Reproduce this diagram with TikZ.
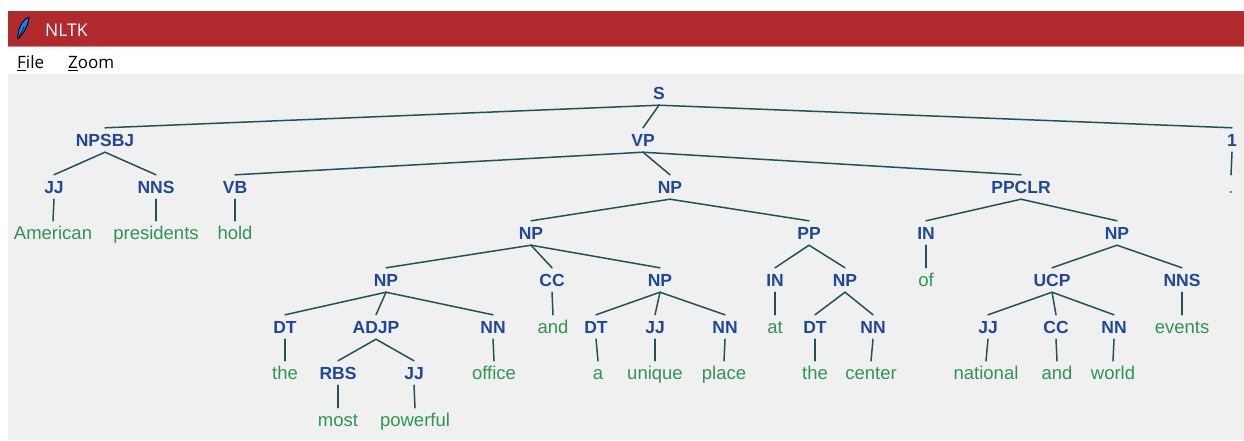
\documentclass[tikz,border=0pt]{standalone}
\usepackage{fontspec}
\setmainfont{Liberation Sans}
\newfontfamily\uifont{Open Sans}
\definecolor{tkred}{RGB}{176,42,46}
\definecolor{tkgray}{RGB}{240,240,240}
\definecolor{labcol}{RGB}{32,72,150}
\definecolor{leafcol}{RGB}{46,150,84}
\definecolor{edgecol}{RGB}{30,84,88}
\begin{document}
\begin{tikzpicture}[x=1pt,y=-1pt,line cap=round,line join=round,
    cat/.style={text=labcol,font=\fontsize{17.5}{20}\selectfont\bfseries,
      inner xsep=1pt,inner ysep=5pt,text height=13pt,text depth=1pt},
    word/.style={cat,text=leafcol,font=\fontsize{18.5}{21}\selectfont},
    branch/.style={draw=edgecol,line width=1.5pt},
    menu/.style={anchor=base west,inner sep=0pt,font=\uifont\fontsize{17}{20}\selectfont}]
    % window frame
    \useasboundingbox (0,0) rectangle (1244,440);
    \fill[white] (0,0) rectangle (1244,440);
    \fill[tkred] (8,11) rectangle (1244,46);
    \draw[tkred!55,line width=1pt] (8,46.5)--(1244,46.5);
    \fill[tkgray] (8,74) rectangle (1244,440);
    % feather icon
    \filldraw[fill=blue!45!cyan,draw=black,line width=0.9pt]
        (18,39) .. controls (17,30) and (22,20) .. (29,17)
        .. controls (28,26) and (24,33) .. (18,39);
    \draw[black,line width=0.8pt] (18,39)--(24,27);
    \node[menu,text=white,font=\uifont\fontsize{17.5}{20}\selectfont] (title) at (45,36) {NLTK};
    \node[menu] (file) at (17,68.3) {\underline{F}ile};
    \node[menu] (zoom) at (68,68.3) {\underline{Z}oom};

    % tree
    \node[cat] (s) at (659,93) {S};

    \node[cat] (npsbj) at (105,140) {NPSBJ};
    \node[cat] (vp) at (643,140) {VP};
    \node[cat] (one) at (1232,140) {1};

    \node[cat] (jj1) at (54,187) {JJ};
    \node[cat] (nns1) at (156,187) {NNS};
    \node[cat] (vb) at (235,187) {VB};
    \node[cat] (np1) at (670,187) {NP};
    \node[cat] (ppclr) at (1021,187) {PPCLR};
    \node[word] (dot) at (1231,187) {.};

    \node[word] (american) at (53,233) {American};
    \node[word] (presidents) at (156,233) {presidents};
    \node[word] (hold) at (235,233) {hold};
    \node[cat] (np2) at (531,233) {NP};
    \node[cat] (pp) at (809,233) {PP};
    \node[cat] (in1) at (926,233) {IN};
    \node[cat] (np3) at (1117,233) {NP};

    \node[cat] (np4) at (386,280) {NP};
    \node[cat] (cc1) at (552,280) {CC};
    \node[cat] (np5) at (660,280) {NP};
    \node[cat] (in2) at (775,280) {IN};
    \node[cat] (np6) at (845,280) {NP};
    \node[word] (of) at (926,280) {of};
    \node[cat] (ucp) at (1052,280) {UCP};
    \node[cat] (nns2) at (1182,280) {NNS};

    \node[cat] (dt1) at (285,327) {DT};
    \node[cat] (adjp) at (376,327) {ADJP};
    \node[cat] (nn1) at (493,327) {NN};
    \node[word] (and1) at (553,327) {and};
    \node[cat] (dt2) at (596,327) {DT};
    \node[cat] (jj2) at (655,327) {JJ};
    \node[cat] (nn2) at (725,327) {NN};
    \node[word] (at) at (775,327) {at};
    \node[cat] (dt3) at (815,327) {DT};
    \node[cat] (nn3) at (873,327) {NN};
    \node[cat] (jj3) at (988,327) {JJ};
    \node[cat] (cc2) at (1056,327) {CC};
    \node[cat] (nn4) at (1114,327) {NN};
    \node[word] (events) at (1182,327) {events};

    \node[word] (the1) at (285,373) {the};
    \node[cat] (rbs) at (338,373) {RBS};
    \node[cat] (jj4) at (414,373) {JJ};
    \node[word] (office) at (494,373) {office};
    \node[word] (a) at (598,373) {a};
    \node[word] (unique) at (655,373) {unique};
    \node[word] (place) at (724,373) {place};
    \node[word] (the2) at (815,373) {the};
    \node[word] (center) at (871,373) {center};
    \node[word] (national) at (986,373) {national};
    \node[word] (and2) at (1057,373) {and};
    \node[word] (world) at (1113,373) {world};

    \node[word] (most) at (338,420) {most};
    \node[word] (powerful) at (415,420) {powerful};

    % branches
    \foreach \p/\c in {s/npsbj,s/vp,s/one,npsbj/jj1,npsbj/nns1,jj1/american,
        nns1/presidents,vp/vb,vp/np1,vp/ppclr,vb/hold,one/dot,np1/np2,np1/pp,
        np2/np4,np2/cc1,np2/np5,np4/dt1,np4/adjp,np4/nn1,dt1/the1,adjp/rbs,
        adjp/jj4,rbs/most,jj4/powerful,nn1/office,cc1/and1,np5/dt2,np5/jj2,
        np5/nn2,dt2/a,jj2/unique,nn2/place,pp/in2,pp/np6,in2/at,np6/dt3,
        np6/nn3,dt3/the2,nn3/center,ppclr/in1,ppclr/np3,in1/of,np3/ucp,
        np3/nns2,ucp/jj3,ucp/cc2,ucp/nn4,nns2/events,jj3/national,cc2/and2,
        nn4/world}
        \draw[branch] (\p.south)--(\c.north);
\end{tikzpicture}
\end{document}
